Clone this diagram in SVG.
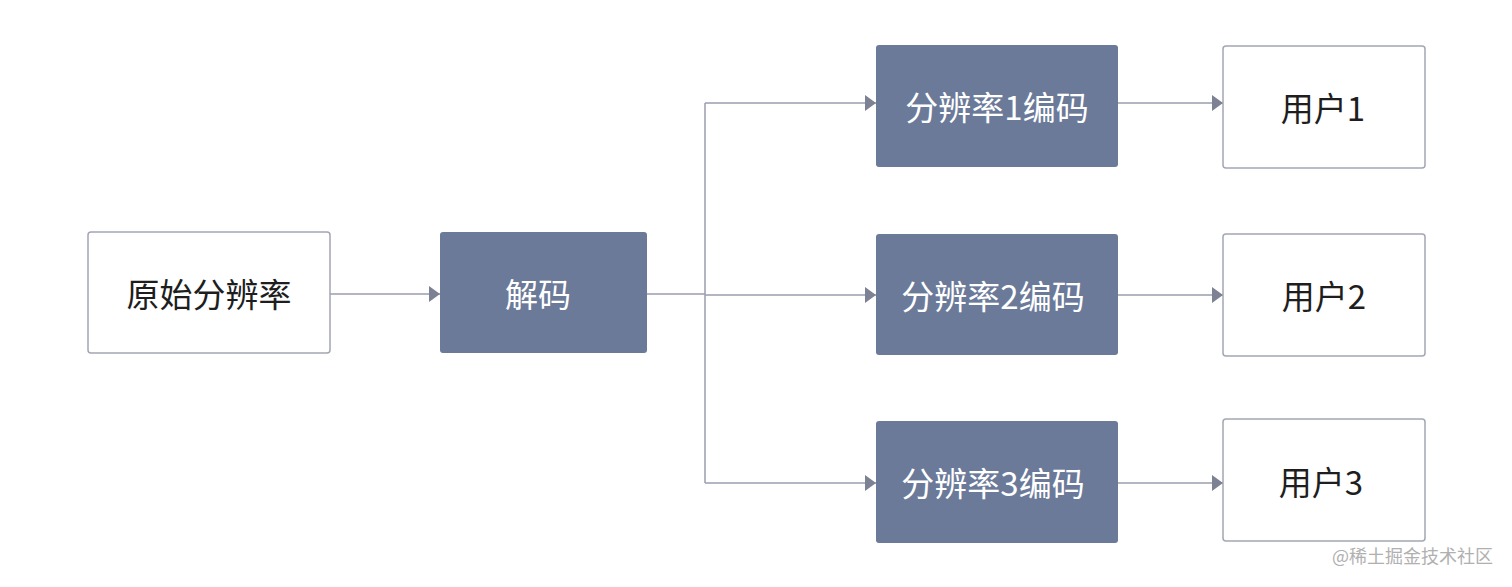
<svg xmlns="http://www.w3.org/2000/svg" width="1512" height="587" viewBox="0 0 1512 587">
<style>
.light{fill:#ffffff;stroke:#a3a7b3;stroke-width:1.5}
.dark{fill:#6b7a99;stroke:none}
.t{font-family:"Noto Sans CJK SC","Noto Sans",sans-serif;font-size:33px;text-anchor:middle;dominant-baseline:central}
.td{fill:#1e1e1e}
.tl{fill:#ffffff}
.c{fill:none;stroke:#9a9eae;stroke-width:1.5}
.wm{font-family:"Noto Sans CJK SC","Noto Sans",sans-serif;font-size:18px;fill:#b0b0b0;text-anchor:end}
</style>
<defs>
<marker id="ah" markerWidth="12" markerHeight="16" refX="11" refY="8" orient="auto" markerUnits="userSpaceOnUse">
<path d="M0,0 L11,8 L0,16 Z" fill="#7d8194"/>
</marker>
</defs>
<g id="connectors">
<path class="c" d="M330,294 H440" marker-end="url(#ah)"/>
<path class="c" d="M647,294 H705"/>
<path class="c" d="M705,103 V483"/>
<path class="c" d="M705,103 H876" marker-end="url(#ah)"/>
<path class="c" d="M705,295 H876" marker-end="url(#ah)"/>
<path class="c" d="M705,483 H876" marker-end="url(#ah)"/>
<path class="c" d="M1118,103 H1223" marker-end="url(#ah)"/>
<path class="c" d="M1118,295 H1223" marker-end="url(#ah)"/>
<path class="c" d="M1118,483 H1223" marker-end="url(#ah)"/>
</g>
<g id="n-orig"><rect class="light" x="88" y="232" width="242" height="121" rx="3"/><text class="t td" x="209" y="293">原始分辨率</text></g>
<g id="n-decode"><rect class="dark" x="440" y="232" width="207" height="121" rx="3"/><text class="t tl" x="538" y="293">解码</text></g>
<g id="n-enc1"><rect class="dark" x="876" y="45" width="242" height="122" rx="3"/><text class="t tl" x="997" y="106">分辨率1编码</text></g>
<g id="n-enc2"><rect class="dark" x="876" y="234" width="242" height="121" rx="3"/><text class="t tl" x="993" y="295">分辨率2编码</text></g>
<g id="n-enc3"><rect class="dark" x="876" y="421" width="242" height="122" rx="3"/><text class="t tl" x="993" y="482">分辨率3编码</text></g>
<g id="n-user1"><rect class="light" x="1223" y="46" width="202" height="122" rx="3"/><text class="t td" x="1323" y="107">用户1</text></g>
<g id="n-user2"><rect class="light" x="1223" y="234" width="202" height="122" rx="3"/><text class="t td" x="1324" y="295">用户2</text></g>
<g id="n-user3"><rect class="light" x="1223" y="419" width="202" height="122" rx="3"/><text class="t td" x="1321" y="481">用户3</text></g>
<text class="wm" x="1493" y="563">@稀土掘金技术社区</text>
</svg>
